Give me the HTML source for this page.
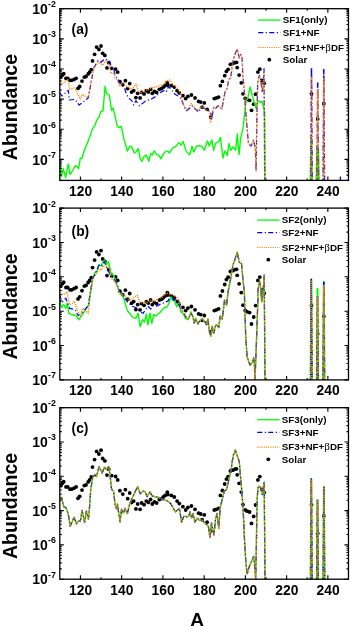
<!DOCTYPE html>
<html><head><meta charset="utf-8"><style>
html,body{margin:0;padding:0;background:#fff;overflow:hidden;}
svg{display:block;will-change:transform;}
</style></head><body>
<svg width="350" height="627" viewBox="0 0 350 627">
<defs><clipPath id="cp0"><rect x="59.80" y="8.70" width="288.68" height="171.70"/></clipPath><clipPath id="cp1"><rect x="59.80" y="208.10" width="288.68" height="171.80"/></clipPath><clipPath id="cp2"><rect x="59.80" y="407.70" width="288.68" height="171.50"/></clipPath></defs>
<g clip-path="url(#cp0)">
<circle cx="60.9" cy="77.1" r="1.9" fill="#000"/>
<circle cx="62.6" cy="74.9" r="1.9" fill="#000"/>
<circle cx="63.7" cy="73.7" r="1.9" fill="#000"/>
<circle cx="66.0" cy="78.3" r="1.9" fill="#000"/>
<circle cx="67.7" cy="78.3" r="1.9" fill="#000"/>
<circle cx="70.0" cy="80.3" r="1.9" fill="#000"/>
<circle cx="71.7" cy="80.3" r="1.9" fill="#000"/>
<circle cx="74.0" cy="79.4" r="1.9" fill="#000"/>
<circle cx="76.1" cy="78.3" r="1.9" fill="#000"/>
<circle cx="78.0" cy="88.3" r="1.9" fill="#000"/>
<circle cx="79.7" cy="86.5" r="1.9" fill="#000"/>
<circle cx="82.0" cy="81.1" r="1.9" fill="#000"/>
<circle cx="84.3" cy="77.1" r="1.9" fill="#000"/>
<circle cx="86.0" cy="76.5" r="1.9" fill="#000"/>
<circle cx="88.2" cy="73.9" r="1.9" fill="#000"/>
<circle cx="89.6" cy="72.2" r="1.9" fill="#000"/>
<circle cx="91.3" cy="69.6" r="1.9" fill="#000"/>
<circle cx="92.5" cy="60.9" r="1.9" fill="#000"/>
<circle cx="94.6" cy="54.3" r="1.9" fill="#000"/>
<circle cx="96.6" cy="47.1" r="1.9" fill="#000"/>
<circle cx="98.9" cy="49.4" r="1.9" fill="#000"/>
<circle cx="101.0" cy="46.0" r="1.9" fill="#000"/>
<circle cx="102.7" cy="53.3" r="1.9" fill="#000"/>
<circle cx="104.9" cy="55.4" r="1.9" fill="#000"/>
<circle cx="108.7" cy="62.7" r="1.9" fill="#000"/>
<circle cx="107.0" cy="67.9" r="1.9" fill="#000"/>
<circle cx="111.7" cy="68.3" r="1.9" fill="#000"/>
<circle cx="115.6" cy="69.1" r="1.9" fill="#000"/>
<circle cx="117.7" cy="72.1" r="1.9" fill="#000"/>
<circle cx="119.9" cy="81.6" r="1.9" fill="#000"/>
<circle cx="122.8" cy="84.6" r="1.9" fill="#000"/>
<circle cx="125.4" cy="80.7" r="1.9" fill="#000"/>
<circle cx="127.7" cy="88.6" r="1.9" fill="#000"/>
<circle cx="129.7" cy="83.6" r="1.9" fill="#000"/>
<circle cx="131.6" cy="92.1" r="1.9" fill="#000"/>
<circle cx="133.7" cy="90.7" r="1.9" fill="#000"/>
<circle cx="135.9" cy="97.6" r="1.9" fill="#000"/>
<circle cx="137.7" cy="93.3" r="1.9" fill="#000"/>
<circle cx="140.1" cy="97.9" r="1.9" fill="#000"/>
<circle cx="141.6" cy="92.4" r="1.9" fill="#000"/>
<circle cx="144.1" cy="93.9" r="1.9" fill="#000"/>
<circle cx="146.3" cy="90.7" r="1.9" fill="#000"/>
<circle cx="148.3" cy="91.9" r="1.9" fill="#000"/>
<circle cx="150.6" cy="89.3" r="1.9" fill="#000"/>
<circle cx="152.3" cy="93.3" r="1.9" fill="#000"/>
<circle cx="154.4" cy="91.4" r="1.9" fill="#000"/>
<circle cx="156.6" cy="92.4" r="1.9" fill="#000"/>
<circle cx="159.4" cy="89.3" r="1.9" fill="#000"/>
<circle cx="161.6" cy="88.6" r="1.9" fill="#000"/>
<circle cx="163.4" cy="87.1" r="1.9" fill="#000"/>
<circle cx="165.1" cy="85.7" r="1.9" fill="#000"/>
<circle cx="167.3" cy="82.9" r="1.9" fill="#000"/>
<circle cx="167.9" cy="85.0" r="1.9" fill="#000"/>
<circle cx="171.4" cy="85.7" r="1.9" fill="#000"/>
<circle cx="174.3" cy="87.1" r="1.9" fill="#000"/>
<circle cx="177.1" cy="90.7" r="1.9" fill="#000"/>
<circle cx="179.3" cy="92.9" r="1.9" fill="#000"/>
<circle cx="182.9" cy="95.7" r="1.9" fill="#000"/>
<circle cx="185.7" cy="98.6" r="1.9" fill="#000"/>
<circle cx="187.9" cy="96.4" r="1.9" fill="#000"/>
<circle cx="191.4" cy="95.0" r="1.9" fill="#000"/>
<circle cx="195.0" cy="97.9" r="1.9" fill="#000"/>
<circle cx="198.6" cy="101.4" r="1.9" fill="#000"/>
<circle cx="200.7" cy="102.1" r="1.9" fill="#000"/>
<circle cx="204.3" cy="102.9" r="1.9" fill="#000"/>
<circle cx="202.1" cy="107.1" r="1.9" fill="#000"/>
<circle cx="207.1" cy="109.3" r="1.9" fill="#000"/>
<circle cx="210.7" cy="117.1" r="1.9" fill="#000"/>
<circle cx="214.3" cy="98.6" r="1.9" fill="#000"/>
<circle cx="216.4" cy="97.9" r="1.9" fill="#000"/>
<circle cx="218.6" cy="97.1" r="1.9" fill="#000"/>
<circle cx="220.4" cy="85.7" r="1.9" fill="#000"/>
<circle cx="222.4" cy="81.4" r="1.9" fill="#000"/>
<circle cx="224.7" cy="75.7" r="1.9" fill="#000"/>
<circle cx="226.4" cy="71.4" r="1.9" fill="#000"/>
<circle cx="228.1" cy="69.3" r="1.9" fill="#000"/>
<circle cx="230.4" cy="64.3" r="1.9" fill="#000"/>
<circle cx="232.9" cy="63.6" r="1.9" fill="#000"/>
<circle cx="235.0" cy="62.6" r="1.9" fill="#000"/>
<circle cx="236.5" cy="62.4" r="1.9" fill="#000"/>
<circle cx="237.2" cy="67.6" r="1.9" fill="#000"/>
<circle cx="239.1" cy="75.1" r="1.9" fill="#000"/>
<circle cx="241.3" cy="82.8" r="1.9" fill="#000"/>
<circle cx="243.0" cy="93.8" r="1.9" fill="#000"/>
<circle cx="245.2" cy="98.4" r="1.9" fill="#000"/>
<circle cx="247.2" cy="99.6" r="1.9" fill="#000"/>
<circle cx="249.6" cy="100.3" r="1.9" fill="#000"/>
<circle cx="251.5" cy="110.3" r="1.9" fill="#000"/>
<circle cx="253.7" cy="104.2" r="1.9" fill="#000"/>
<circle cx="255.6" cy="94.2" r="1.9" fill="#000"/>
<circle cx="257.9" cy="72.1" r="1.9" fill="#000"/>
<circle cx="259.8" cy="69.2" r="1.9" fill="#000"/>
<circle cx="261.8" cy="80.4" r="1.9" fill="#000"/>
<circle cx="264.2" cy="83.3" r="1.9" fill="#000"/>
<circle cx="311.5" cy="94.0" r="1.9" fill="#000"/>
<circle cx="317.7" cy="119.0" r="1.9" fill="#000"/>
<circle cx="323.8" cy="103.7" r="1.9" fill="#000"/>
<path d="M59.8 161.5 L61.4 176.6 L63.1 168.5 L64.4 173.0 L65.6 177.7 L68.3 164.0 L70.0 174.3 L72.9 170.3 L75.1 165.7 L76.9 166.3 L78.6 168.6 L80.3 158.3 L82.0 158.3 L84.3 150.3 L87.1 143.7 L89.7 136.9 L92.3 129.1 L95.0 125.3 L96.7 120.1 L99.0 117.3 L100.7 111.6 L103.0 111.0 L105.1 86.4 L106.4 93.3 L109.3 95.0 L111.6 110.4 L113.1 108.1 L115.0 116.1 L117.3 126.4 L119.0 127.6 L121.3 126.4 L124.0 139.1 L127.4 151.1 L130.0 146.0 L131.7 146.9 L134.3 152.9 L136.0 152.0 L138.2 148.6 L140.3 158.9 L142.0 161.4 L143.7 157.1 L146.3 154.9 L148.9 161.4 L150.6 153.7 L152.3 154.9 L154.3 150.8 L156.6 154.6 L159.1 155.4 L160.9 158.9 L163.4 153.7 L166.0 151.1 L167.7 151.1 L169.4 152.9 L172.9 147.7 L175.4 146.9 L176.7 145.1 L178.8 142.6 L181.0 145.1 L183.2 141.7 L186.1 151.1 L189.6 154.9 L192.1 146.3 L193.9 152.0 L196.4 146.3 L199.9 145.7 L202.4 146.9 L204.1 150.3 L207.6 140.9 L209.3 146.0 L211.9 140.0 L213.6 150.3 L216.1 142.6 L218.7 141.7 L220.4 137.4 L223.0 158.0 L224.7 151.1 L227.3 155.4 L229.0 143.4 L230.7 150.3 L233.3 146.9 L235.6 150.3 L237.3 134.0 L239.0 154.6 L240.7 138.3 L243.3 126.3 L245.9 100.6 L247.6 98.9 L250.1 86.9 L252.7 97.1 L256.1 108.3 L257.9 100.6 L260.4 102.3 L262.1 101.4 L264.7 112.6 L265.1 180.4" fill="none" stroke-linejoin="round" stroke="#00ff00" stroke-width="1.4"/>
<path d="M310.5 183.4 L311.2 140.0 L311.9 183.4M316.5 183.4 L317.2 147.0 L317.9 183.4M317.5 183.4 L318.2 150.0 L318.9 183.4" fill="none" stroke-linejoin="round" stroke="#00ff00" stroke-width="2.0"/>
<path d="M59.7 92.6 L62.0 96.0 L68.3 90.3 L69.4 100.0 L75.1 99.4 L79.1 105.1 L82.0 102.9 L88.3 97.7 L92.3 76.0 L93.4 68.0 L94.6 66.5 L98.0 60.6 L101.0 62.3 L104.9 58.9 L109.1 60.6 L110.4 63.1 L110.9 67.4 L113.4 68.3 L115.1 74.3 L116.4 76.8 L118.6 80.3 L121.1 84.6 L124.6 88.0 L126.6 95.0 L129.4 98.6 L132.3 101.4 L133.7 105.0 L135.9 100.7 L139.4 105.7 L142.3 103.6 L145.9 100.7 L150.9 99.3 L155.9 96.4 L159.4 92.9 L165.1 90.0 L166.4 91.4 L168.6 86.4 L172.1 90.7 L175.0 94.3 L180.0 97.1 L182.1 101.4 L184.3 107.1 L186.4 110.7 L188.6 109.3 L192.1 105.7 L195.7 109.3 L198.6 112.1 L200.7 108.6 L203.6 107.9 L206.4 109.3 L208.6 110.7 L210.7 112.1 L211.5 120.0 L213.6 107.9 L215.0 109.1 L218.4 105.7 L221.9 109.1 L223.6 99.3 L225.0 92.1 L227.1 88.6 L228.6 80.0 L230.7 77.9 L232.1 67.1 L233.6 58.6 L235.0 54.3 L237.1 48.9 L239.3 57.9 L240.7 54.3 L242.1 58.6 L242.9 77.1 L244.3 90.0 L245.9 114.3 L248.4 143.4 L251.0 146.0 L253.6 140.0 L255.3 148.6 L256.1 170.9 L257.0 110.9 L257.7 82.3 L259.4 75.4 L260.6 78.9 L262.3 92.6 L263.4 82.3 L264.0 68.6 L264.7 179.4" fill="none" stroke-linejoin="round" stroke="#0000ff" stroke-width="1.2" stroke-dasharray="5.1 2.5 1.2 2.2"/>
<path d="M310.8 183.4 L311.5 67.8 L312.2 183.4M317.0 183.4 L317.7 83.0 L318.4 183.4M323.1 183.4 L323.8 69.5 L324.5 183.4" fill="none" stroke-linejoin="round" stroke="#0000ff" stroke-width="1.5" stroke-dasharray="5.1 2.5 1.2 2.2"/>
<path d="M59.7 80.6 L61.4 84.0 L63.7 82.9 L65.4 81.1 L67.7 79.4 L68.9 84.6 L69.4 89.5 L74.0 88.0 L76.3 90.9 L80.3 99.4 L82.0 94.3 L86.0 96.6 L88.3 97.1 L92.3 74.9 L94.6 66.9 L98.0 62.3 L100.6 64.0 L103.1 64.9 L105.7 60.6 L109.6 65.7 L110.9 73.4 L113.4 72.6 L115.1 77.7 L117.7 81.1 L119.4 86.3 L122.8 82.8 L126.3 86.3 L131.6 89.3 L135.9 84.3 L138.0 90.0 L140.9 93.6 L143.7 90.0 L148.0 90.0 L152.3 87.9 L155.9 87.1 L159.4 85.7 L163.7 84.3 L165.0 81.4 L169.3 80.0 L173.6 85.0 L177.9 88.6 L180.7 93.6 L183.6 104.3 L186.4 109.3 L188.6 107.9 L191.4 103.6 L193.6 106.4 L195.7 108.6 L197.9 110.7 L200.0 107.9 L202.1 106.4 L205.0 108.6 L207.9 110.7 L210.0 113.6 L210.7 122.9 L212.1 112.1 L214.3 107.1 L218.4 105.7 L221.9 109.1 L223.6 99.3 L225.0 92.1 L227.1 88.6 L228.6 80.0 L230.7 77.9 L232.1 67.1 L233.6 58.6 L235.0 54.3 L237.1 48.9 L239.3 57.9 L240.7 54.3 L242.1 58.6 L242.9 77.1 L244.3 90.0 L245.9 114.3 L248.4 143.4 L251.0 146.0 L253.6 140.0 L255.3 148.6 L256.1 170.9 L257.0 110.9 L257.7 82.3 L259.4 75.4 L260.6 78.9 L262.3 92.6 L263.4 82.3 L264.0 72.0 L264.7 179.4" fill="none" stroke-linejoin="round" stroke="#ff8000" stroke-width="1.4" stroke-dasharray="1.1 1.1"/>
<path d="M310.8 183.4 L311.5 76.0 L312.2 183.4M317.0 183.4 L317.7 90.0 L318.4 183.4M323.1 183.4 L323.8 78.0 L324.5 183.4" fill="none" stroke-linejoin="round" stroke="#ff8000" stroke-width="1.5" stroke-dasharray="1.1 1.1"/>
<path d="M340.4 180V176.5" stroke="#0000ff" stroke-width="1.3"/>
</g>
<g clip-path="url(#cp1)">
<circle cx="60.9" cy="286.1" r="1.9" fill="#000"/>
<circle cx="62.6" cy="283.6" r="1.9" fill="#000"/>
<circle cx="63.7" cy="282.2" r="1.9" fill="#000"/>
<circle cx="66.0" cy="287.5" r="1.9" fill="#000"/>
<circle cx="67.7" cy="287.5" r="1.9" fill="#000"/>
<circle cx="70.0" cy="289.8" r="1.9" fill="#000"/>
<circle cx="71.7" cy="289.8" r="1.9" fill="#000"/>
<circle cx="74.0" cy="288.7" r="1.9" fill="#000"/>
<circle cx="76.1" cy="287.5" r="1.9" fill="#000"/>
<circle cx="78.0" cy="298.9" r="1.9" fill="#000"/>
<circle cx="79.7" cy="296.8" r="1.9" fill="#000"/>
<circle cx="82.0" cy="290.7" r="1.9" fill="#000"/>
<circle cx="84.3" cy="286.1" r="1.9" fill="#000"/>
<circle cx="86.0" cy="285.4" r="1.9" fill="#000"/>
<circle cx="88.2" cy="282.5" r="1.9" fill="#000"/>
<circle cx="89.6" cy="280.5" r="1.9" fill="#000"/>
<circle cx="91.3" cy="277.6" r="1.9" fill="#000"/>
<circle cx="92.5" cy="267.6" r="1.9" fill="#000"/>
<circle cx="94.6" cy="260.1" r="1.9" fill="#000"/>
<circle cx="96.6" cy="251.9" r="1.9" fill="#000"/>
<circle cx="98.9" cy="254.5" r="1.9" fill="#000"/>
<circle cx="101.0" cy="250.6" r="1.9" fill="#000"/>
<circle cx="102.7" cy="259.0" r="1.9" fill="#000"/>
<circle cx="104.9" cy="261.4" r="1.9" fill="#000"/>
<circle cx="108.7" cy="269.7" r="1.9" fill="#000"/>
<circle cx="107.0" cy="275.6" r="1.9" fill="#000"/>
<circle cx="111.7" cy="276.1" r="1.9" fill="#000"/>
<circle cx="115.6" cy="277.0" r="1.9" fill="#000"/>
<circle cx="117.7" cy="280.4" r="1.9" fill="#000"/>
<circle cx="119.9" cy="291.2" r="1.9" fill="#000"/>
<circle cx="122.8" cy="294.7" r="1.9" fill="#000"/>
<circle cx="125.4" cy="290.2" r="1.9" fill="#000"/>
<circle cx="127.7" cy="299.2" r="1.9" fill="#000"/>
<circle cx="129.7" cy="293.5" r="1.9" fill="#000"/>
<circle cx="131.6" cy="303.2" r="1.9" fill="#000"/>
<circle cx="133.7" cy="301.6" r="1.9" fill="#000"/>
<circle cx="135.9" cy="309.5" r="1.9" fill="#000"/>
<circle cx="137.7" cy="304.6" r="1.9" fill="#000"/>
<circle cx="140.1" cy="309.8" r="1.9" fill="#000"/>
<circle cx="141.6" cy="303.6" r="1.9" fill="#000"/>
<circle cx="144.1" cy="305.3" r="1.9" fill="#000"/>
<circle cx="146.3" cy="301.6" r="1.9" fill="#000"/>
<circle cx="148.3" cy="303.0" r="1.9" fill="#000"/>
<circle cx="150.6" cy="300.0" r="1.9" fill="#000"/>
<circle cx="152.3" cy="304.6" r="1.9" fill="#000"/>
<circle cx="154.4" cy="302.4" r="1.9" fill="#000"/>
<circle cx="156.6" cy="303.6" r="1.9" fill="#000"/>
<circle cx="159.4" cy="300.0" r="1.9" fill="#000"/>
<circle cx="161.6" cy="299.2" r="1.9" fill="#000"/>
<circle cx="163.4" cy="297.5" r="1.9" fill="#000"/>
<circle cx="165.1" cy="295.9" r="1.9" fill="#000"/>
<circle cx="167.3" cy="292.7" r="1.9" fill="#000"/>
<circle cx="167.9" cy="295.1" r="1.9" fill="#000"/>
<circle cx="171.4" cy="295.9" r="1.9" fill="#000"/>
<circle cx="174.3" cy="297.5" r="1.9" fill="#000"/>
<circle cx="177.1" cy="301.6" r="1.9" fill="#000"/>
<circle cx="179.3" cy="304.1" r="1.9" fill="#000"/>
<circle cx="182.9" cy="307.3" r="1.9" fill="#000"/>
<circle cx="185.7" cy="310.6" r="1.9" fill="#000"/>
<circle cx="187.9" cy="308.1" r="1.9" fill="#000"/>
<circle cx="191.4" cy="306.5" r="1.9" fill="#000"/>
<circle cx="195.0" cy="309.8" r="1.9" fill="#000"/>
<circle cx="198.6" cy="313.8" r="1.9" fill="#000"/>
<circle cx="200.7" cy="314.6" r="1.9" fill="#000"/>
<circle cx="204.3" cy="315.5" r="1.9" fill="#000"/>
<circle cx="202.1" cy="320.3" r="1.9" fill="#000"/>
<circle cx="207.1" cy="322.8" r="1.9" fill="#000"/>
<circle cx="210.7" cy="331.7" r="1.9" fill="#000"/>
<circle cx="214.3" cy="310.6" r="1.9" fill="#000"/>
<circle cx="216.4" cy="309.8" r="1.9" fill="#000"/>
<circle cx="218.6" cy="308.9" r="1.9" fill="#000"/>
<circle cx="220.4" cy="295.9" r="1.9" fill="#000"/>
<circle cx="222.4" cy="291.0" r="1.9" fill="#000"/>
<circle cx="224.7" cy="284.5" r="1.9" fill="#000"/>
<circle cx="226.4" cy="279.6" r="1.9" fill="#000"/>
<circle cx="228.1" cy="277.2" r="1.9" fill="#000"/>
<circle cx="230.4" cy="271.5" r="1.9" fill="#000"/>
<circle cx="232.9" cy="270.7" r="1.9" fill="#000"/>
<circle cx="235.0" cy="269.6" r="1.9" fill="#000"/>
<circle cx="236.5" cy="269.3" r="1.9" fill="#000"/>
<circle cx="237.2" cy="275.3" r="1.9" fill="#000"/>
<circle cx="239.1" cy="283.8" r="1.9" fill="#000"/>
<circle cx="241.3" cy="292.6" r="1.9" fill="#000"/>
<circle cx="243.0" cy="305.2" r="1.9" fill="#000"/>
<circle cx="245.2" cy="310.4" r="1.9" fill="#000"/>
<circle cx="247.2" cy="311.8" r="1.9" fill="#000"/>
<circle cx="249.6" cy="312.6" r="1.9" fill="#000"/>
<circle cx="251.5" cy="324.0" r="1.9" fill="#000"/>
<circle cx="253.7" cy="317.0" r="1.9" fill="#000"/>
<circle cx="255.6" cy="305.6" r="1.9" fill="#000"/>
<circle cx="257.9" cy="280.4" r="1.9" fill="#000"/>
<circle cx="259.8" cy="277.1" r="1.9" fill="#000"/>
<circle cx="261.8" cy="289.9" r="1.9" fill="#000"/>
<circle cx="264.2" cy="293.2" r="1.9" fill="#000"/>
<circle cx="311.5" cy="305.4" r="1.9" fill="#000"/>
<circle cx="317.7" cy="333.9" r="1.9" fill="#000"/>
<circle cx="323.8" cy="316.4" r="1.9" fill="#000"/>
<path d="M59.4 299.0 L61.6 307.6 L63.7 304.7 L65.9 308.3 L67.3 303.3 L68.8 313.3 L72.4 314.8 L76.0 315.5 L78.8 319.8 L81.7 315.5 L88.9 304.7 L92.5 279.6 L94.6 273.1 L96.8 271.7 L99.0 264.5 L101.1 265.9 L104.0 260.2 L106.5 264.4 L108.6 261.6 L110.8 272.3 L112.9 274.5 L114.4 277.4 L116.5 283.1 L118.7 290.3 L120.8 293.9 L123.0 296.0 L125.1 303.2 L127.3 310.4 L130.2 314.0 L133.0 317.6 L135.9 318.3 L138.1 313.3 L140.2 326.9 L142.4 319.7 L144.5 321.9 L146.4 314.0 L147.9 324.8 L150.0 313.3 L151.9 323.3 L153.6 314.7 L155.8 316.1 L157.9 314.0 L160.1 312.6 L162.2 309.7 L164.4 307.5 L166.6 307.5 L168.7 303.9 L170.9 296.8 L172.3 300.3 L174.5 300.3 L176.6 306.8 L178.8 303.2 L180.9 311.8 L183.1 313.3 L185.2 318.3 L188.1 319.7 L191.0 311.8 L192.9 316.8 L194.3 323.3 L195.7 318.2 L197.9 324.0 L200.1 320.4 L202.2 319.0 L204.4 321.1 L206.5 324.7 L208.0 319.0 L209.4 331.9 L210.8 336.2 L212.3 326.1 L213.7 333.3 L215.9 324.7 L217.3 325.4 L218.7 327.6 L220.2 316.1 L222.3 319.0 L224.5 300.3 L226.6 305.3 L228.1 291.7 L229.5 284.5 L231.4 274.5 L232.9 265.1 L235.0 259.4 L237.2 252.2 L239.3 262.3 L241.5 263.7 L242.9 278.8 L244.4 293.2 L245.0 314.3 L245.7 335.7 L247.1 357.1 L250.0 365.0 L252.1 362.9 L253.6 357.9 L254.3 362.9 L255.0 379.9 L256.4 342.9 L257.9 300.0 L258.0 290.3 L259.5 281.0 L260.9 288.9 L261.6 301.8 L263.0 293.2 L264.2 275.2 L265.0 379.9" fill="none" stroke-linejoin="round" stroke="#00ff00" stroke-width="1.4"/>
<path d="M310.6 382.9 L311.3 279.5 L312.0 382.9M316.8 382.9 L317.5 288.8 L318.2 382.9M323.1 382.9 L323.8 282.5 L324.5 382.9" fill="none" stroke-linejoin="round" stroke="#00ff00" stroke-width="2.0"/>
<path d="M59.4 294.7 L62.3 301.8 L65.9 298.2 L69.5 308.3 L75.2 309.7 L78.1 315.5 L83.1 311.9 L88.2 305.4 L92.5 278.9 L95.4 273.1 L99.0 265.2 L101.1 266.6 L104.3 261.6 L107.2 268.7 L110.1 274.5 L112.9 277.4 L116.5 283.1 L119.4 290.3 L123.0 295.3 L127.3 301.8 L131.6 306.1 L135.9 307.5 L140.2 311.8 L143.1 313.3 L145.0 310.4 L147.9 306.1 L150.7 309.0 L153.6 305.4 L157.2 306.1 L160.8 303.9 L164.4 302.5 L168.0 301.1 L170.9 296.0 L173.7 300.3 L176.6 298.9 L179.5 306.1 L181.6 309.0 L183.8 313.3 L186.7 318.3 L188.8 317.6 L191.0 313.3 L192.9 316.8 L194.3 323.3 L195.7 318.2 L197.9 324.0 L200.1 320.4 L202.2 319.0 L204.4 321.1 L206.5 324.7 L208.0 319.0 L209.4 331.9 L210.8 336.2 L212.3 326.1 L213.7 333.3 L215.9 324.7 L217.3 325.4 L218.7 327.6 L220.2 316.1 L222.3 319.0 L224.5 300.3 L226.6 305.3 L228.1 291.7 L229.5 284.5 L231.4 274.5 L232.9 265.1 L235.0 259.4 L237.2 252.2 L239.3 262.3 L241.5 263.7 L242.9 278.8 L244.4 293.2 L245.0 314.3 L245.7 335.7 L247.1 357.1 L250.0 365.0 L252.1 362.9 L253.6 357.9 L254.3 362.9 L255.0 379.9 L256.4 342.9 L257.9 300.0 L258.0 290.3 L259.5 281.0 L260.9 288.9 L261.6 301.8 L263.0 293.2 L264.2 275.2 L265.0 379.9" fill="none" stroke-linejoin="round" stroke="#0000ff" stroke-width="1.2" stroke-dasharray="5.1 2.5 1.2 2.2"/>
<path d="M310.6 382.9 L311.3 278.5 L312.0 382.9M316.8 382.9 L317.5 295.5 L318.2 382.9M323.1 382.9 L323.8 282.0 L324.5 382.9" fill="none" stroke-linejoin="round" stroke="#0000ff" stroke-width="1.5" stroke-dasharray="5.1 2.5 1.2 2.2"/>
<path d="M60.2 293.2 L63.7 294.7 L67.3 291.8 L69.5 304.7 L72.4 303.3 L74.5 301.1 L77.4 310.5 L80.3 316.2 L82.4 308.3 L85.3 310.5 L88.2 313.3 L90.3 291.8 L93.2 277.4 L96.1 274.5 L99.0 268.8 L101.1 270.2 L102.9 265.9 L105.7 266.6 L108.6 265.1 L111.5 278.8 L114.4 280.9 L117.2 286.0 L120.1 294.6 L123.7 293.9 L127.3 298.9 L130.9 300.3 L134.5 296.8 L137.4 295.3 L139.5 301.8 L143.1 303.2 L145.0 301.8 L147.9 302.5 L150.7 300.3 L153.6 301.8 L156.5 299.6 L159.4 298.2 L163.0 296.8 L166.6 293.2 L170.1 293.2 L173.7 296.0 L176.6 297.5 L179.5 300.3 L181.6 310.4 L185.2 316.1 L188.1 319.0 L191.0 313.3 L192.9 316.8 L194.3 323.3 L195.7 318.2 L197.9 324.0 L200.1 320.4 L202.2 319.0 L204.4 321.1 L206.5 324.7 L208.0 319.0 L209.4 331.9 L210.8 336.2 L212.3 326.1 L213.7 333.3 L215.9 324.7 L217.3 325.4 L218.7 327.6 L220.2 316.1 L222.3 319.0 L224.5 300.3 L226.6 305.3 L228.1 291.7 L229.5 284.5 L231.4 274.5 L232.9 265.1 L235.0 259.4 L237.2 252.2 L239.3 262.3 L241.5 263.7 L242.9 278.8 L244.4 293.2 L245.0 314.3 L245.7 335.7 L247.1 357.1 L250.0 365.0 L252.1 362.9 L253.6 357.9 L254.3 362.9 L255.0 379.9 L256.4 342.9 L257.9 300.0 L258.0 290.3 L259.5 281.0 L260.9 288.9 L261.6 301.8 L263.0 293.2 L264.2 275.2 L265.0 379.9" fill="none" stroke-linejoin="round" stroke="#ff8000" stroke-width="1.4" stroke-dasharray="1.1 1.1"/>
<path d="M310.6 382.9 L311.3 281.0 L312.0 382.9M316.8 382.9 L317.5 297.0 L318.2 382.9M323.1 382.9 L323.8 286.0 L324.5 382.9" fill="none" stroke-linejoin="round" stroke="#ff8000" stroke-width="1.5" stroke-dasharray="1.1 1.1"/>
</g>
<g clip-path="url(#cp2)">
<circle cx="60.9" cy="485.6" r="1.9" fill="#000"/>
<circle cx="62.6" cy="483.1" r="1.9" fill="#000"/>
<circle cx="63.7" cy="481.7" r="1.9" fill="#000"/>
<circle cx="66.0" cy="486.9" r="1.9" fill="#000"/>
<circle cx="67.7" cy="486.9" r="1.9" fill="#000"/>
<circle cx="70.0" cy="489.2" r="1.9" fill="#000"/>
<circle cx="71.7" cy="489.2" r="1.9" fill="#000"/>
<circle cx="74.0" cy="488.2" r="1.9" fill="#000"/>
<circle cx="76.1" cy="486.9" r="1.9" fill="#000"/>
<circle cx="78.0" cy="498.3" r="1.9" fill="#000"/>
<circle cx="79.7" cy="496.3" r="1.9" fill="#000"/>
<circle cx="82.0" cy="490.1" r="1.9" fill="#000"/>
<circle cx="84.3" cy="485.6" r="1.9" fill="#000"/>
<circle cx="86.0" cy="484.9" r="1.9" fill="#000"/>
<circle cx="88.2" cy="481.9" r="1.9" fill="#000"/>
<circle cx="89.6" cy="480.0" r="1.9" fill="#000"/>
<circle cx="91.3" cy="477.0" r="1.9" fill="#000"/>
<circle cx="92.5" cy="467.1" r="1.9" fill="#000"/>
<circle cx="94.6" cy="459.6" r="1.9" fill="#000"/>
<circle cx="96.6" cy="451.4" r="1.9" fill="#000"/>
<circle cx="98.9" cy="454.0" r="1.9" fill="#000"/>
<circle cx="101.0" cy="450.2" r="1.9" fill="#000"/>
<circle cx="102.7" cy="458.5" r="1.9" fill="#000"/>
<circle cx="104.9" cy="460.9" r="1.9" fill="#000"/>
<circle cx="108.7" cy="469.2" r="1.9" fill="#000"/>
<circle cx="107.0" cy="475.1" r="1.9" fill="#000"/>
<circle cx="111.7" cy="475.6" r="1.9" fill="#000"/>
<circle cx="115.6" cy="476.5" r="1.9" fill="#000"/>
<circle cx="117.7" cy="479.9" r="1.9" fill="#000"/>
<circle cx="119.9" cy="490.7" r="1.9" fill="#000"/>
<circle cx="122.8" cy="494.1" r="1.9" fill="#000"/>
<circle cx="125.4" cy="489.7" r="1.9" fill="#000"/>
<circle cx="127.7" cy="498.7" r="1.9" fill="#000"/>
<circle cx="129.7" cy="493.0" r="1.9" fill="#000"/>
<circle cx="131.6" cy="502.6" r="1.9" fill="#000"/>
<circle cx="133.7" cy="501.1" r="1.9" fill="#000"/>
<circle cx="135.9" cy="508.9" r="1.9" fill="#000"/>
<circle cx="137.7" cy="504.0" r="1.9" fill="#000"/>
<circle cx="140.1" cy="509.3" r="1.9" fill="#000"/>
<circle cx="141.6" cy="503.0" r="1.9" fill="#000"/>
<circle cx="144.1" cy="504.7" r="1.9" fill="#000"/>
<circle cx="146.3" cy="501.1" r="1.9" fill="#000"/>
<circle cx="148.3" cy="502.4" r="1.9" fill="#000"/>
<circle cx="150.6" cy="499.5" r="1.9" fill="#000"/>
<circle cx="152.3" cy="504.0" r="1.9" fill="#000"/>
<circle cx="154.4" cy="501.9" r="1.9" fill="#000"/>
<circle cx="156.6" cy="503.0" r="1.9" fill="#000"/>
<circle cx="159.4" cy="499.5" r="1.9" fill="#000"/>
<circle cx="161.6" cy="498.7" r="1.9" fill="#000"/>
<circle cx="163.4" cy="497.0" r="1.9" fill="#000"/>
<circle cx="165.1" cy="495.4" r="1.9" fill="#000"/>
<circle cx="167.3" cy="492.2" r="1.9" fill="#000"/>
<circle cx="167.9" cy="494.6" r="1.9" fill="#000"/>
<circle cx="171.4" cy="495.4" r="1.9" fill="#000"/>
<circle cx="174.3" cy="497.0" r="1.9" fill="#000"/>
<circle cx="177.1" cy="501.1" r="1.9" fill="#000"/>
<circle cx="179.3" cy="503.6" r="1.9" fill="#000"/>
<circle cx="182.9" cy="506.7" r="1.9" fill="#000"/>
<circle cx="185.7" cy="510.0" r="1.9" fill="#000"/>
<circle cx="187.9" cy="507.5" r="1.9" fill="#000"/>
<circle cx="191.4" cy="506.0" r="1.9" fill="#000"/>
<circle cx="195.0" cy="509.3" r="1.9" fill="#000"/>
<circle cx="198.6" cy="513.2" r="1.9" fill="#000"/>
<circle cx="200.7" cy="514.0" r="1.9" fill="#000"/>
<circle cx="204.3" cy="514.9" r="1.9" fill="#000"/>
<circle cx="202.1" cy="519.7" r="1.9" fill="#000"/>
<circle cx="207.1" cy="522.2" r="1.9" fill="#000"/>
<circle cx="210.7" cy="531.1" r="1.9" fill="#000"/>
<circle cx="214.3" cy="510.0" r="1.9" fill="#000"/>
<circle cx="216.4" cy="509.3" r="1.9" fill="#000"/>
<circle cx="218.6" cy="508.3" r="1.9" fill="#000"/>
<circle cx="220.4" cy="495.4" r="1.9" fill="#000"/>
<circle cx="222.4" cy="490.5" r="1.9" fill="#000"/>
<circle cx="224.7" cy="484.0" r="1.9" fill="#000"/>
<circle cx="226.4" cy="479.1" r="1.9" fill="#000"/>
<circle cx="228.1" cy="476.7" r="1.9" fill="#000"/>
<circle cx="230.4" cy="471.0" r="1.9" fill="#000"/>
<circle cx="232.9" cy="470.2" r="1.9" fill="#000"/>
<circle cx="235.0" cy="469.1" r="1.9" fill="#000"/>
<circle cx="236.5" cy="468.8" r="1.9" fill="#000"/>
<circle cx="237.2" cy="474.8" r="1.9" fill="#000"/>
<circle cx="239.1" cy="483.3" r="1.9" fill="#000"/>
<circle cx="241.3" cy="492.1" r="1.9" fill="#000"/>
<circle cx="243.0" cy="504.6" r="1.9" fill="#000"/>
<circle cx="245.2" cy="509.8" r="1.9" fill="#000"/>
<circle cx="247.2" cy="511.2" r="1.9" fill="#000"/>
<circle cx="249.6" cy="512.0" r="1.9" fill="#000"/>
<circle cx="251.5" cy="523.4" r="1.9" fill="#000"/>
<circle cx="253.7" cy="516.4" r="1.9" fill="#000"/>
<circle cx="255.6" cy="505.0" r="1.9" fill="#000"/>
<circle cx="257.9" cy="479.9" r="1.9" fill="#000"/>
<circle cx="259.8" cy="476.6" r="1.9" fill="#000"/>
<circle cx="261.8" cy="489.3" r="1.9" fill="#000"/>
<circle cx="264.2" cy="492.6" r="1.9" fill="#000"/>
<circle cx="311.5" cy="504.8" r="1.9" fill="#000"/>
<circle cx="317.7" cy="533.3" r="1.9" fill="#000"/>
<circle cx="323.8" cy="515.9" r="1.9" fill="#000"/>
<path d="M59.4 498.9 L61.6 497.5 L63.7 506.8 L65.9 507.5 L68.1 513.3 L70.2 526.2 L72.4 521.2 L74.1 516.9 L76.4 524.1 L78.1 521.2 L80.3 521.2 L82.1 510.4 L84.6 522.6 L86.4 511.1 L88.5 519.0 L89.6 506.1 L90.8 488.9 L92.5 478.8 L94.6 474.5 L96.5 476.6 L99.0 466.6 L101.1 470.9 L102.2 473.0 L104.3 467.2 L106.5 469.4 L108.6 466.5 L110.1 475.1 L111.5 488.8 L113.6 491.7 L115.1 504.6 L116.5 508.9 L117.5 503.9 L118.7 513.2 L120.1 521.8 L121.6 508.9 L123.3 513.2 L125.1 508.2 L127.3 513.9 L129.5 504.6 L131.6 499.6 L134.5 493.1 L137.6 486.6 L140.2 493.8 L143.1 490.9 L145.0 491.7 L147.2 496.7 L150.0 491.7 L152.2 496.0 L155.1 496.7 L158.6 497.4 L161.5 498.9 L163.7 499.6 L165.8 500.3 L168.7 501.7 L170.9 503.9 L173.0 507.5 L175.2 511.8 L177.3 510.3 L179.5 508.2 L181.6 522.6 L183.8 516.1 L186.7 516.8 L188.8 516.1 L190.0 511.8 L191.6 518.1 L193.2 513.4 L194.8 522.1 L197.2 518.1 L199.6 520.5 L202.0 519.7 L204.4 522.9 L206.7 524.5 L208.3 526.1 L209.9 537.3 L211.5 522.9 L213.9 534.9 L215.5 519.7 L217.1 513.4 L218.7 528.5 L220.3 507.0 L222.7 497.4 L224.3 491.0 L226.7 489.4 L229.1 478.3 L231.1 469.5 L232.2 461.6 L233.6 454.4 L235.3 450.1 L237.2 455.8 L239.3 461.6 L240.3 474.5 L241.5 487.4 L242.6 501.8 L243.6 519.0 L244.3 535.7 L245.7 560.0 L247.1 574.3 L249.3 566.4 L252.1 560.0 L253.6 556.4 L254.3 561.4 L255.7 579.2 L256.4 542.9 L257.1 500.0 L258.0 487.4 L259.5 486.0 L260.9 488.9 L262.3 494.6 L263.3 487.4 L264.2 481.7 L265.0 579.2" fill="none" stroke-linejoin="round" stroke="#00ff00" stroke-width="1.4"/>
<path d="M310.6 582.2 L311.3 479.1 L312.0 582.2M316.8 582.2 L317.5 499.9 L318.2 582.2M323.2 582.2 L323.9 486.8 L324.6 582.2" fill="none" stroke-linejoin="round" stroke="#00ff00" stroke-width="2.0"/>
<path d="M59.4 498.9 L61.6 497.5 L63.7 506.8 L65.9 507.5 L68.1 513.3 L70.2 526.2 L72.4 521.2 L74.1 516.9 L76.4 524.1 L78.1 521.2 L80.3 521.2 L82.1 510.4 L84.6 522.6 L86.4 511.1 L88.5 519.0 L89.6 506.1 L90.8 488.9 L92.5 478.8 L94.6 474.5 L96.5 476.6 L99.0 466.6 L101.1 470.9 L102.2 473.0 L104.3 467.2 L106.5 469.4 L108.6 466.5 L110.1 475.1 L111.5 488.8 L113.6 491.7 L115.1 504.6 L116.5 508.9 L117.5 503.9 L118.7 513.2 L120.1 521.8 L121.6 508.9 L123.3 513.2 L125.1 508.2 L127.3 513.9 L129.5 504.6 L131.6 499.6 L134.5 493.1 L137.6 486.6 L140.2 493.8 L143.1 490.9 L145.0 491.7 L147.2 496.7 L150.0 491.7 L152.2 496.0 L155.1 496.7 L158.6 497.4 L161.5 498.9 L163.7 499.6 L165.8 500.3 L168.7 501.7 L170.9 503.9 L173.0 507.5 L175.2 511.8 L177.3 510.3 L179.5 508.2 L181.6 522.6 L183.8 516.1 L186.7 516.8 L188.8 516.1 L190.0 511.8 L191.6 518.1 L193.2 513.4 L194.8 522.1 L197.2 518.1 L199.6 520.5 L202.0 519.7 L204.4 522.9 L206.7 524.5 L208.3 526.1 L209.9 537.3 L211.5 522.9 L213.9 534.9 L215.5 519.7 L217.1 513.4 L218.7 528.5 L220.3 507.0 L222.7 497.4 L224.3 491.0 L226.7 489.4 L229.1 478.3 L231.1 469.5 L232.2 461.6 L233.6 454.4 L235.3 450.1 L237.2 455.8 L239.3 461.6 L240.3 474.5 L241.5 487.4 L242.6 501.8 L243.6 519.0 L244.3 535.7 L245.7 560.0 L247.1 574.3 L249.3 566.4 L252.1 560.0 L253.6 556.4 L254.3 561.4 L255.7 579.2 L256.4 542.9 L257.1 500.0 L258.0 487.4 L259.5 486.0 L260.9 488.9 L262.3 494.6 L263.3 487.4 L264.2 481.7 L265.0 579.2" fill="none" stroke-linejoin="round" stroke="#0000ff" stroke-width="1.2" stroke-dasharray="5.1 2.5 1.2 2.2"/>
<path d="M310.6 582.2 L311.3 479.1 L312.0 582.2M316.8 582.2 L317.5 499.9 L318.2 582.2M323.2 582.2 L323.9 486.8 L324.6 582.2" fill="none" stroke-linejoin="round" stroke="#0000ff" stroke-width="1.5" stroke-dasharray="5.1 2.5 1.2 2.2"/>
<path d="M59.4 498.9 L61.6 497.5 L63.7 506.8 L65.9 507.5 L68.1 513.3 L70.2 526.2 L72.4 521.2 L74.1 516.9 L76.4 524.1 L78.1 521.2 L80.3 521.2 L82.1 510.4 L84.6 522.6 L86.4 511.1 L88.5 519.0 L89.6 506.1 L90.8 488.9 L92.5 478.8 L94.6 474.5 L96.5 476.6 L99.0 466.6 L101.1 470.9 L102.2 473.0 L104.3 467.2 L106.5 469.4 L108.6 466.5 L110.1 475.1 L111.5 488.8 L113.6 491.7 L115.1 504.6 L116.5 508.9 L117.5 503.9 L118.7 513.2 L120.1 521.8 L121.6 508.9 L123.3 513.2 L125.1 508.2 L127.3 513.9 L129.5 504.6 L131.6 499.6 L134.5 493.1 L137.6 486.6 L140.2 493.8 L143.1 490.9 L145.0 491.7 L147.2 496.7 L150.0 491.7 L152.2 496.0 L155.1 496.7 L158.6 497.4 L161.5 498.9 L163.7 499.6 L165.8 500.3 L168.7 501.7 L170.9 503.9 L173.0 507.5 L175.2 511.8 L177.3 510.3 L179.5 508.2 L181.6 522.6 L183.8 516.1 L186.7 516.8 L188.8 516.1 L190.0 511.8 L191.6 518.1 L193.2 513.4 L194.8 522.1 L197.2 518.1 L199.6 520.5 L202.0 519.7 L204.4 522.9 L206.7 524.5 L208.3 526.1 L209.9 537.3 L211.5 522.9 L213.9 534.9 L215.5 519.7 L217.1 513.4 L218.7 528.5 L220.3 507.0 L222.7 497.4 L224.3 491.0 L226.7 489.4 L229.1 478.3 L231.1 469.5 L232.2 461.6 L233.6 454.4 L235.3 450.1 L237.2 455.8 L239.3 461.6 L240.3 474.5 L241.5 487.4 L242.6 501.8 L243.6 519.0 L244.3 535.7 L245.7 560.0 L247.1 574.3 L249.3 566.4 L252.1 560.0 L253.6 556.4 L254.3 561.4 L255.7 579.2 L256.4 542.9 L257.1 500.0 L258.0 487.4 L259.5 486.0 L260.9 488.9 L262.3 494.6 L263.3 487.4 L264.2 481.7 L265.0 579.2" fill="none" stroke-linejoin="round" stroke="#ff8000" stroke-width="1.4" stroke-dasharray="1.1 1.1"/>
<path d="M310.6 582.2 L311.3 479.1 L312.0 582.2M316.8 582.2 L317.5 499.9 L318.2 582.2M323.2 582.2 L323.9 486.8 L324.6 582.2" fill="none" stroke-linejoin="round" stroke="#ff8000" stroke-width="1.5" stroke-dasharray="1.1 1.1"/>
</g>
<path d="M80.42 180.40v-4M80.42 8.70v4M101.04 180.40v-2M101.04 8.70v2M121.66 180.40v-4M121.66 8.70v4M142.28 180.40v-2M142.28 8.70v2M162.90 180.40v-4M162.90 8.70v4M183.52 180.40v-2M183.52 8.70v2M204.14 180.40v-4M204.14 8.70v4M224.76 180.40v-2M224.76 8.70v2M245.38 180.40v-4M245.38 8.70v4M266.00 180.40v-2M266.00 8.70v2M286.62 180.40v-4M286.62 8.70v4M307.24 180.40v-2M307.24 8.70v2M327.86 180.40v-4M327.86 8.70v4M59.80 8.70h4M348.48 8.70h-4M59.80 38.83h4M348.48 38.83h-4M59.80 29.76h2M348.48 29.76h-2M59.80 24.45h2M348.48 24.45h-2M59.80 20.69h2M348.48 20.69h-2M59.80 17.77h2M348.48 17.77h-2M59.80 15.38h2M348.48 15.38h-2M59.80 13.37h2M348.48 13.37h-2M59.80 11.62h2M348.48 11.62h-2M59.80 10.08h2M348.48 10.08h-2M59.80 68.96h4M348.48 68.96h-4M59.80 59.89h2M348.48 59.89h-2M59.80 54.58h2M348.48 54.58h-2M59.80 50.82h2M348.48 50.82h-2M59.80 47.90h2M348.48 47.90h-2M59.80 45.51h2M348.48 45.51h-2M59.80 43.49h2M348.48 43.49h-2M59.80 41.75h2M348.48 41.75h-2M59.80 40.21h2M348.48 40.21h-2M59.80 99.08h4M348.48 99.08h-4M59.80 90.01h2M348.48 90.01h-2M59.80 84.71h2M348.48 84.71h-2M59.80 80.95h2M348.48 80.95h-2M59.80 78.03h2M348.48 78.03h-2M59.80 75.64h2M348.48 75.64h-2M59.80 73.62h2M348.48 73.62h-2M59.80 71.88h2M348.48 71.88h-2M59.80 70.33h2M348.48 70.33h-2M59.80 129.21h4M348.48 129.21h-4M59.80 120.14h2M348.48 120.14h-2M59.80 114.84h2M348.48 114.84h-2M59.80 111.07h2M348.48 111.07h-2M59.80 108.15h2M348.48 108.15h-2M59.80 105.77h2M348.48 105.77h-2M59.80 103.75h2M348.48 103.75h-2M59.80 102.00h2M348.48 102.00h-2M59.80 100.46h2M348.48 100.46h-2M59.80 159.34h4M348.48 159.34h-4M59.80 150.27h2M348.48 150.27h-2M59.80 144.97h2M348.48 144.97h-2M59.80 141.20h2M348.48 141.20h-2M59.80 138.28h2M348.48 138.28h-2M59.80 135.90h2M348.48 135.90h-2M59.80 133.88h2M348.48 133.88h-2M59.80 132.13h2M348.48 132.13h-2M59.80 130.59h2M348.48 130.59h-2M59.80 180.40h2M348.48 180.40h-2M59.80 175.09h2M348.48 175.09h-2M59.80 171.33h2M348.48 171.33h-2M59.80 168.41h2M348.48 168.41h-2M59.80 166.02h2M348.48 166.02h-2M59.80 164.01h2M348.48 164.01h-2M59.80 162.26h2M348.48 162.26h-2M59.80 160.72h2M348.48 160.72h-2" stroke="#000" stroke-width="1.1" fill="none"/>
<rect x="59.80" y="8.70" width="288.68" height="171.70" stroke="#000" stroke-width="1.3" fill="none"/>
<text transform="translate(80.62 195.70) scale(1 1.06)" font-family="Liberation Sans, sans-serif" font-weight="bold" font-size="13.8" text-anchor="middle">120</text>
<text transform="translate(121.86 195.70) scale(1 1.06)" font-family="Liberation Sans, sans-serif" font-weight="bold" font-size="13.8" text-anchor="middle">140</text>
<text transform="translate(163.10 195.70) scale(1 1.06)" font-family="Liberation Sans, sans-serif" font-weight="bold" font-size="13.8" text-anchor="middle">160</text>
<text transform="translate(204.34 195.70) scale(1 1.06)" font-family="Liberation Sans, sans-serif" font-weight="bold" font-size="13.8" text-anchor="middle">180</text>
<text transform="translate(245.58 195.70) scale(1 1.06)" font-family="Liberation Sans, sans-serif" font-weight="bold" font-size="13.8" text-anchor="middle">200</text>
<text transform="translate(286.82 195.70) scale(1 1.06)" font-family="Liberation Sans, sans-serif" font-weight="bold" font-size="13.8" text-anchor="middle">220</text>
<text transform="translate(328.06 195.70) scale(1 1.06)" font-family="Liberation Sans, sans-serif" font-weight="bold" font-size="13.8" text-anchor="middle">240</text>
<text transform="translate(47.70 13.90) scale(1 1.08)" font-family="Liberation Sans, sans-serif" font-weight="bold" font-size="14" text-anchor="end">10</text>
<text transform="translate(48.10 7.10) scale(1 1.0)" font-family="Liberation Sans, sans-serif" font-weight="bold" font-size="8.8">-2</text>
<text transform="translate(47.70 44.03) scale(1 1.08)" font-family="Liberation Sans, sans-serif" font-weight="bold" font-size="14" text-anchor="end">10</text>
<text transform="translate(48.10 37.23) scale(1 1.0)" font-family="Liberation Sans, sans-serif" font-weight="bold" font-size="8.8">-3</text>
<text transform="translate(47.70 74.16) scale(1 1.08)" font-family="Liberation Sans, sans-serif" font-weight="bold" font-size="14" text-anchor="end">10</text>
<text transform="translate(48.10 67.36) scale(1 1.0)" font-family="Liberation Sans, sans-serif" font-weight="bold" font-size="8.8">-4</text>
<text transform="translate(47.70 104.28) scale(1 1.08)" font-family="Liberation Sans, sans-serif" font-weight="bold" font-size="14" text-anchor="end">10</text>
<text transform="translate(48.10 97.48) scale(1 1.0)" font-family="Liberation Sans, sans-serif" font-weight="bold" font-size="8.8">-5</text>
<text transform="translate(47.70 134.41) scale(1 1.08)" font-family="Liberation Sans, sans-serif" font-weight="bold" font-size="14" text-anchor="end">10</text>
<text transform="translate(48.10 127.61) scale(1 1.0)" font-family="Liberation Sans, sans-serif" font-weight="bold" font-size="8.8">-6</text>
<text transform="translate(47.70 164.54) scale(1 1.08)" font-family="Liberation Sans, sans-serif" font-weight="bold" font-size="14" text-anchor="end">10</text>
<text transform="translate(48.10 157.74) scale(1 1.0)" font-family="Liberation Sans, sans-serif" font-weight="bold" font-size="8.8">-7</text>
<text transform="translate(17.4 107.05) rotate(-90)" font-family="Liberation Sans, sans-serif" font-weight="bold" font-size="19.5" text-anchor="middle">Abundance</text>
<text x="71.6" y="34.00" font-family="Liberation Sans, sans-serif" font-weight="bold" font-size="13.8">(a)</text>
<path d="M258.2 20.10H280.5" stroke="#00ff00" stroke-width="1.3"/>
<text x="282.8" y="23.40" font-family="Liberation Sans, sans-serif" font-weight="bold" font-size="9.8">SF1(only)</text>
<path d="M258.2 32.70H280.5" stroke="#0000ff" stroke-width="1.2" stroke-dasharray="5.1 2.5 1.2 2.2"/>
<text x="282.8" y="36.00" font-family="Liberation Sans, sans-serif" font-weight="bold" font-size="9.8">SF1+NF</text>
<path d="M258.2 47.50H280.5" stroke="#ff8000" stroke-width="1.2" stroke-dasharray="1.1 1.1"/>
<text x="282.8" y="50.80" font-family="Liberation Sans, sans-serif" font-weight="bold" font-size="9.8">SF1+NF+<tspan font-family="Liberation Serif, serif" font-weight="normal" font-size="11">&#946;</tspan>DF</text>
<circle cx="269.3" cy="59.70" r="1.9" fill="#000"/>
<text x="282.8" y="63.00" font-family="Liberation Sans, sans-serif" font-weight="bold" font-size="9.8">Solar</text>
<path d="M80.42 379.90v-4M80.42 208.10v4M101.04 379.90v-2M101.04 208.10v2M121.66 379.90v-4M121.66 208.10v4M142.28 379.90v-2M142.28 208.10v2M162.90 379.90v-4M162.90 208.10v4M183.52 379.90v-2M183.52 208.10v2M204.14 379.90v-4M204.14 208.10v4M224.76 379.90v-2M224.76 208.10v2M245.38 379.90v-4M245.38 208.10v4M266.00 379.90v-2M266.00 208.10v2M286.62 379.90v-4M286.62 208.10v4M307.24 379.90v-2M307.24 208.10v2M327.86 379.90v-4M327.86 208.10v4M59.80 208.10h4M348.48 208.10h-4M59.80 242.46h4M348.48 242.46h-4M59.80 232.12h2M348.48 232.12h-2M59.80 226.07h2M348.48 226.07h-2M59.80 221.77h2M348.48 221.77h-2M59.80 218.44h2M348.48 218.44h-2M59.80 215.72h2M348.48 215.72h-2M59.80 213.42h2M348.48 213.42h-2M59.80 211.43h2M348.48 211.43h-2M59.80 209.67h2M348.48 209.67h-2M59.80 276.82h4M348.48 276.82h-4M59.80 266.48h2M348.48 266.48h-2M59.80 260.43h2M348.48 260.43h-2M59.80 256.13h2M348.48 256.13h-2M59.80 252.80h2M348.48 252.80h-2M59.80 250.08h2M348.48 250.08h-2M59.80 247.78h2M348.48 247.78h-2M59.80 245.79h2M348.48 245.79h-2M59.80 244.03h2M348.48 244.03h-2M59.80 311.18h4M348.48 311.18h-4M59.80 300.84h2M348.48 300.84h-2M59.80 294.79h2M348.48 294.79h-2M59.80 290.49h2M348.48 290.49h-2M59.80 287.16h2M348.48 287.16h-2M59.80 284.44h2M348.48 284.44h-2M59.80 282.14h2M348.48 282.14h-2M59.80 280.15h2M348.48 280.15h-2M59.80 278.39h2M348.48 278.39h-2M59.80 345.54h4M348.48 345.54h-4M59.80 335.20h2M348.48 335.20h-2M59.80 329.15h2M348.48 329.15h-2M59.80 324.85h2M348.48 324.85h-2M59.80 321.52h2M348.48 321.52h-2M59.80 318.80h2M348.48 318.80h-2M59.80 316.50h2M348.48 316.50h-2M59.80 314.51h2M348.48 314.51h-2M59.80 312.75h2M348.48 312.75h-2M59.80 379.90h4M348.48 379.90h-4M59.80 369.56h2M348.48 369.56h-2M59.80 363.51h2M348.48 363.51h-2M59.80 359.21h2M348.48 359.21h-2M59.80 355.88h2M348.48 355.88h-2M59.80 353.16h2M348.48 353.16h-2M59.80 350.86h2M348.48 350.86h-2M59.80 348.87h2M348.48 348.87h-2M59.80 347.11h2M348.48 347.11h-2" stroke="#000" stroke-width="1.1" fill="none"/>
<rect x="59.80" y="208.10" width="288.68" height="171.80" stroke="#000" stroke-width="1.3" fill="none"/>
<text transform="translate(80.62 395.20) scale(1 1.06)" font-family="Liberation Sans, sans-serif" font-weight="bold" font-size="13.8" text-anchor="middle">120</text>
<text transform="translate(121.86 395.20) scale(1 1.06)" font-family="Liberation Sans, sans-serif" font-weight="bold" font-size="13.8" text-anchor="middle">140</text>
<text transform="translate(163.10 395.20) scale(1 1.06)" font-family="Liberation Sans, sans-serif" font-weight="bold" font-size="13.8" text-anchor="middle">160</text>
<text transform="translate(204.34 395.20) scale(1 1.06)" font-family="Liberation Sans, sans-serif" font-weight="bold" font-size="13.8" text-anchor="middle">180</text>
<text transform="translate(245.58 395.20) scale(1 1.06)" font-family="Liberation Sans, sans-serif" font-weight="bold" font-size="13.8" text-anchor="middle">200</text>
<text transform="translate(286.82 395.20) scale(1 1.06)" font-family="Liberation Sans, sans-serif" font-weight="bold" font-size="13.8" text-anchor="middle">220</text>
<text transform="translate(328.06 395.20) scale(1 1.06)" font-family="Liberation Sans, sans-serif" font-weight="bold" font-size="13.8" text-anchor="middle">240</text>
<text transform="translate(47.70 213.30) scale(1 1.08)" font-family="Liberation Sans, sans-serif" font-weight="bold" font-size="14" text-anchor="end">10</text>
<text transform="translate(48.10 206.50) scale(1 1.0)" font-family="Liberation Sans, sans-serif" font-weight="bold" font-size="8.8">-2</text>
<text transform="translate(47.70 247.66) scale(1 1.08)" font-family="Liberation Sans, sans-serif" font-weight="bold" font-size="14" text-anchor="end">10</text>
<text transform="translate(48.10 240.86) scale(1 1.0)" font-family="Liberation Sans, sans-serif" font-weight="bold" font-size="8.8">-3</text>
<text transform="translate(47.70 282.02) scale(1 1.08)" font-family="Liberation Sans, sans-serif" font-weight="bold" font-size="14" text-anchor="end">10</text>
<text transform="translate(48.10 275.22) scale(1 1.0)" font-family="Liberation Sans, sans-serif" font-weight="bold" font-size="8.8">-4</text>
<text transform="translate(47.70 316.38) scale(1 1.08)" font-family="Liberation Sans, sans-serif" font-weight="bold" font-size="14" text-anchor="end">10</text>
<text transform="translate(48.10 309.58) scale(1 1.0)" font-family="Liberation Sans, sans-serif" font-weight="bold" font-size="8.8">-5</text>
<text transform="translate(47.70 350.74) scale(1 1.08)" font-family="Liberation Sans, sans-serif" font-weight="bold" font-size="14" text-anchor="end">10</text>
<text transform="translate(48.10 343.94) scale(1 1.0)" font-family="Liberation Sans, sans-serif" font-weight="bold" font-size="8.8">-6</text>
<text transform="translate(47.70 385.10) scale(1 1.08)" font-family="Liberation Sans, sans-serif" font-weight="bold" font-size="14" text-anchor="end">10</text>
<text transform="translate(48.10 378.30) scale(1 1.0)" font-family="Liberation Sans, sans-serif" font-weight="bold" font-size="8.8">-7</text>
<text transform="translate(17.4 306.50) rotate(-90)" font-family="Liberation Sans, sans-serif" font-weight="bold" font-size="19.5" text-anchor="middle">Abundance</text>
<text x="71.6" y="235.60" font-family="Liberation Sans, sans-serif" font-weight="bold" font-size="13.8">(b)</text>
<path d="M257.2 220.10H279.5" stroke="#00ff00" stroke-width="1.3"/>
<text x="281.8" y="223.40" font-family="Liberation Sans, sans-serif" font-weight="bold" font-size="9.8">SF2(only)</text>
<path d="M257.2 232.70H279.5" stroke="#0000ff" stroke-width="1.2" stroke-dasharray="5.1 2.5 1.2 2.2"/>
<text x="281.8" y="236.00" font-family="Liberation Sans, sans-serif" font-weight="bold" font-size="9.8">SF2+NF</text>
<path d="M257.2 247.50H279.5" stroke="#ff8000" stroke-width="1.2" stroke-dasharray="1.1 1.1"/>
<text x="281.8" y="250.80" font-family="Liberation Sans, sans-serif" font-weight="bold" font-size="9.8">SF2+NF+<tspan font-family="Liberation Serif, serif" font-weight="normal" font-size="11">&#946;</tspan>DF</text>
<circle cx="268.3" cy="259.70" r="1.9" fill="#000"/>
<text x="281.8" y="263.00" font-family="Liberation Sans, sans-serif" font-weight="bold" font-size="9.8">Solar</text>
<path d="M80.42 579.20v-4M80.42 407.70v4M101.04 579.20v-2M101.04 407.70v2M121.66 579.20v-4M121.66 407.70v4M142.28 579.20v-2M142.28 407.70v2M162.90 579.20v-4M162.90 407.70v4M183.52 579.20v-2M183.52 407.70v2M204.14 579.20v-4M204.14 407.70v4M224.76 579.20v-2M224.76 407.70v2M245.38 579.20v-4M245.38 407.70v4M266.00 579.20v-2M266.00 407.70v2M286.62 579.20v-4M286.62 407.70v4M307.24 579.20v-2M307.24 407.70v2M327.86 579.20v-4M327.86 407.70v4M59.80 407.70h4M348.48 407.70h-4M59.80 442.00h4M348.48 442.00h-4M59.80 431.67h2M348.48 431.67h-2M59.80 425.63h2M348.48 425.63h-2M59.80 421.35h2M348.48 421.35h-2M59.80 418.03h2M348.48 418.03h-2M59.80 415.31h2M348.48 415.31h-2M59.80 413.01h2M348.48 413.01h-2M59.80 411.02h2M348.48 411.02h-2M59.80 409.27h2M348.48 409.27h-2M59.80 476.30h4M348.48 476.30h-4M59.80 465.97h2M348.48 465.97h-2M59.80 459.93h2M348.48 459.93h-2M59.80 455.65h2M348.48 455.65h-2M59.80 452.33h2M348.48 452.33h-2M59.80 449.61h2M348.48 449.61h-2M59.80 447.31h2M348.48 447.31h-2M59.80 445.32h2M348.48 445.32h-2M59.80 443.57h2M348.48 443.57h-2M59.80 510.60h4M348.48 510.60h-4M59.80 500.27h2M348.48 500.27h-2M59.80 494.23h2M348.48 494.23h-2M59.80 489.95h2M348.48 489.95h-2M59.80 486.63h2M348.48 486.63h-2M59.80 483.91h2M348.48 483.91h-2M59.80 481.61h2M348.48 481.61h-2M59.80 479.62h2M348.48 479.62h-2M59.80 477.87h2M348.48 477.87h-2M59.80 544.90h4M348.48 544.90h-4M59.80 534.57h2M348.48 534.57h-2M59.80 528.53h2M348.48 528.53h-2M59.80 524.25h2M348.48 524.25h-2M59.80 520.93h2M348.48 520.93h-2M59.80 518.21h2M348.48 518.21h-2M59.80 515.91h2M348.48 515.91h-2M59.80 513.92h2M348.48 513.92h-2M59.80 512.17h2M348.48 512.17h-2M59.80 579.20h4M348.48 579.20h-4M59.80 568.87h2M348.48 568.87h-2M59.80 562.83h2M348.48 562.83h-2M59.80 558.55h2M348.48 558.55h-2M59.80 555.23h2M348.48 555.23h-2M59.80 552.51h2M348.48 552.51h-2M59.80 550.21h2M348.48 550.21h-2M59.80 548.22h2M348.48 548.22h-2M59.80 546.47h2M348.48 546.47h-2" stroke="#000" stroke-width="1.1" fill="none"/>
<rect x="59.80" y="407.70" width="288.68" height="171.50" stroke="#000" stroke-width="1.3" fill="none"/>
<text transform="translate(80.62 594.50) scale(1 1.06)" font-family="Liberation Sans, sans-serif" font-weight="bold" font-size="13.8" text-anchor="middle">120</text>
<text transform="translate(121.86 594.50) scale(1 1.06)" font-family="Liberation Sans, sans-serif" font-weight="bold" font-size="13.8" text-anchor="middle">140</text>
<text transform="translate(163.10 594.50) scale(1 1.06)" font-family="Liberation Sans, sans-serif" font-weight="bold" font-size="13.8" text-anchor="middle">160</text>
<text transform="translate(204.34 594.50) scale(1 1.06)" font-family="Liberation Sans, sans-serif" font-weight="bold" font-size="13.8" text-anchor="middle">180</text>
<text transform="translate(245.58 594.50) scale(1 1.06)" font-family="Liberation Sans, sans-serif" font-weight="bold" font-size="13.8" text-anchor="middle">200</text>
<text transform="translate(286.82 594.50) scale(1 1.06)" font-family="Liberation Sans, sans-serif" font-weight="bold" font-size="13.8" text-anchor="middle">220</text>
<text transform="translate(328.06 594.50) scale(1 1.06)" font-family="Liberation Sans, sans-serif" font-weight="bold" font-size="13.8" text-anchor="middle">240</text>
<text transform="translate(47.70 412.90) scale(1 1.08)" font-family="Liberation Sans, sans-serif" font-weight="bold" font-size="14" text-anchor="end">10</text>
<text transform="translate(48.10 406.10) scale(1 1.0)" font-family="Liberation Sans, sans-serif" font-weight="bold" font-size="8.8">-2</text>
<text transform="translate(47.70 447.20) scale(1 1.08)" font-family="Liberation Sans, sans-serif" font-weight="bold" font-size="14" text-anchor="end">10</text>
<text transform="translate(48.10 440.40) scale(1 1.0)" font-family="Liberation Sans, sans-serif" font-weight="bold" font-size="8.8">-3</text>
<text transform="translate(47.70 481.50) scale(1 1.08)" font-family="Liberation Sans, sans-serif" font-weight="bold" font-size="14" text-anchor="end">10</text>
<text transform="translate(48.10 474.70) scale(1 1.0)" font-family="Liberation Sans, sans-serif" font-weight="bold" font-size="8.8">-4</text>
<text transform="translate(47.70 515.80) scale(1 1.08)" font-family="Liberation Sans, sans-serif" font-weight="bold" font-size="14" text-anchor="end">10</text>
<text transform="translate(48.10 509.00) scale(1 1.0)" font-family="Liberation Sans, sans-serif" font-weight="bold" font-size="8.8">-5</text>
<text transform="translate(47.70 550.10) scale(1 1.08)" font-family="Liberation Sans, sans-serif" font-weight="bold" font-size="14" text-anchor="end">10</text>
<text transform="translate(48.10 543.30) scale(1 1.0)" font-family="Liberation Sans, sans-serif" font-weight="bold" font-size="8.8">-6</text>
<text transform="translate(47.70 584.40) scale(1 1.08)" font-family="Liberation Sans, sans-serif" font-weight="bold" font-size="14" text-anchor="end">10</text>
<text transform="translate(48.10 577.60) scale(1 1.0)" font-family="Liberation Sans, sans-serif" font-weight="bold" font-size="8.8">-7</text>
<text transform="translate(17.4 505.95) rotate(-90)" font-family="Liberation Sans, sans-serif" font-weight="bold" font-size="19.5" text-anchor="middle">Abundance</text>
<text x="71.6" y="432.80" font-family="Liberation Sans, sans-serif" font-weight="bold" font-size="13.8">(c)</text>
<path d="M257.2 419.70H279.5" stroke="#00ff00" stroke-width="1.3"/>
<text x="281.8" y="423.00" font-family="Liberation Sans, sans-serif" font-weight="bold" font-size="9.8">SF3(only)</text>
<path d="M257.2 432.30H279.5" stroke="#0000ff" stroke-width="1.2" stroke-dasharray="5.1 2.5 1.2 2.2"/>
<text x="281.8" y="435.60" font-family="Liberation Sans, sans-serif" font-weight="bold" font-size="9.8">SF3+NF</text>
<path d="M257.2 447.10H279.5" stroke="#ff8000" stroke-width="1.2" stroke-dasharray="1.1 1.1"/>
<text x="281.8" y="450.40" font-family="Liberation Sans, sans-serif" font-weight="bold" font-size="9.8">SF3+NF+<tspan font-family="Liberation Serif, serif" font-weight="normal" font-size="11">&#946;</tspan>DF</text>
<circle cx="268.3" cy="459.30" r="1.9" fill="#000"/>
<text x="281.8" y="462.60" font-family="Liberation Sans, sans-serif" font-weight="bold" font-size="9.8">Solar</text>
<text x="197.2" y="626.3" font-family="Liberation Sans, sans-serif" font-weight="bold" font-size="19" text-anchor="middle">A</text>
</svg></body></html>
